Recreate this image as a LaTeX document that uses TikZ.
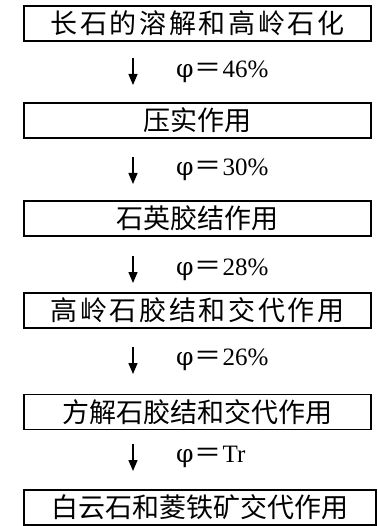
\documentclass[tikz,border=0pt]{standalone}
\usepackage{fontspec}
\newfontfamily\cjk{Noto Sans CJK SC}
\newfontfamily\cjkwide[LetterSpace=10]{Noto Sans CJK SC}
\newfontfamily\lab{Liberation Serif}
\newfontfamily\phif{DejaVu Serif}
\usetikzlibrary{arrows.meta}
\newcommand{\phieq}[1]{{\phif φ}\hspace{1pt}\resizebox{27pt}{!}{\cjk ＝}\hspace{1pt}#1}
\begin{document}
\begin{tikzpicture}[x=1pt,y=-1pt,
  stage/.style={draw, line width=1.3pt, minimum width=347pt, minimum height=35pt, inner sep=0pt, font=\cjk\fontsize{27}{27}\selectfont},
  widestage/.style={stage, font=\cjkwide\fontsize{27}{27}\selectfont},
  flow/.style={-{Triangle[length=11pt,width=9pt]}, line width=1.4pt},
  lbl/.style={anchor=west, inner sep=0pt, font=\lab\fontsize{25}{25}\selectfont}]
\useasboundingbox (0,0) rectangle (377,526);
\node[widestage] (b1) at (197.5,23.5) {长石的溶解和高岭石化};
\node[stage] (b2) at (197.5,120.5) {压实作用};
\node[stage] (b3) at (197.5,218.5) {石英胶结作用};
\node[widestage] (b4) at (197.5,310.5) {高岭石胶结和交代作用};
\node[stage] (b5) at (197.5,412) {方解石胶结和交代作用};
\node[stage, minimum width=352pt] (b6) at (200,507.5) {白云石和菱铁矿交代作用};
\coordinate (s1) at (133,58);  \coordinate (e1) at (133,85);
\coordinate (s2) at (133,157); \coordinate (e2) at (133,184);
\coordinate (s3) at (133,256); \coordinate (e3) at (133,283);
\coordinate (s4) at (133,347); \coordinate (e4) at (133,374);
\coordinate (s5) at (133,444); \coordinate (e5) at (133,471);
\draw[flow] (s1) -- (e1);
\draw[flow] (s2) -- (e2);
\draw[flow] (s3) -- (e3);
\draw[flow] (s4) -- (e4);
\draw[flow] (s5) -- (e5);
\node[lbl] (l1) at (176,72) {\phieq{46\%}};
\node[lbl] (l2) at (176,170) {\phieq{30\%}};
\node[lbl] (l3) at (176,270) {\phieq{28\%}};
\node[lbl] (l4) at (176,360) {\phieq{26\%}};
\node[lbl] (l5) at (176,457) {\phieq{Tr}};
\end{tikzpicture}
\end{document}
